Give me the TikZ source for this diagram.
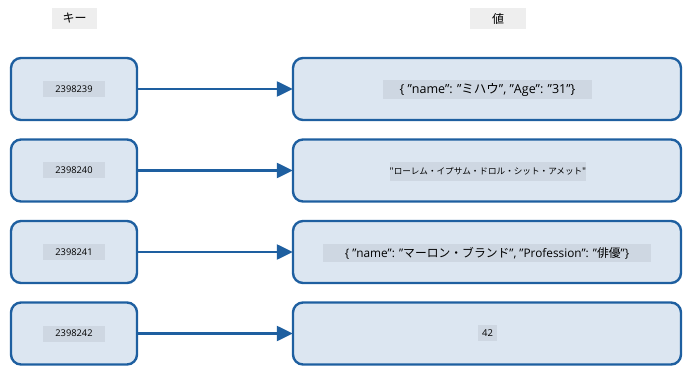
\documentclass[tikz,border=0pt]{standalone}
\usepackage{fontspec}
\setmainfont{Open Sans}[Ligatures=NoCommon]
\newfontfamily\jpfont{Noto Sans CJK JP}
\newcommand{\jp}[1]{{\jpfont #1}}
\usetikzlibrary{arrows.meta}
\definecolor{edge}{RGB}{30,95,160}
\definecolor{boxfill}{RGB}{220,230,241}
\definecolor{labfill}{RGB}{206,215,226}
\definecolor{headfill}{RGB}{238,238,238}
\tikzset{
  keybox/.style={draw=edge, line width=2.4pt, fill=boxfill, rounded corners=10pt,
    minimum width=126pt, minimum height=62pt, inner sep=0pt},
  valbox/.style={draw=edge, line width=2.4pt, fill=boxfill, rounded corners=10pt,
    minimum width=388pt, minimum height=62pt, inner sep=0pt},
  lab/.style={fill=labfill, inner sep=0pt, text=black},
  keylab/.style={lab, minimum width=62pt, minimum height=16pt, font=\fontsize{9.3}{10}\selectfont},
  head/.style={fill=headfill, inner sep=0pt, minimum width=45pt, minimum height=21pt, font=\jpfont\fontsize{12}{13}\selectfont},
  conn/.style={draw=edge, line width=2.4pt, -{Triangle[length=16pt,width=15pt]}, shorten >=-1pt}
}
\begin{document}
\begin{tikzpicture}[x=1pt,y=-1pt]
\useasboundingbox (0,0) rectangle (698,382);
\node[head] (hk) at (74.5,18.5) {キー};
\node[head, minimum width=56pt] (hv) at (498,18.5) {値};
\foreach \i/\y in {1/89,2/170.5,3/252,4/333.5}{
  \node[keybox] (k\i) at (74,\y) {};
  \node[valbox] (v\i) at (487,\y) {};
  \draw[conn] (k\i.east) -- (v\i.west);
}
\node[keylab] (l1) at (k1.center) {2398239};
\node[keylab] (l2) at (k2.center) {2398240};
\node[keylab] (l3) at (k3.center) {2398241};
\node[keylab] (l4) at (k4.center) {2398242};
\node[lab, minimum width=209pt, minimum height=19pt, font=\fontsize{12.5}{13}\selectfont] (m1) at (487.5,89.5) {\{ \symbol{34}name\symbol{34}: \symbol{34}\jp{ミハウ}\symbol{34}, \symbol{34}Age\symbol{34}: \symbol{34}31\symbol{34}\}};
\node[lab, minimum width=196pt, minimum height=19pt, font=\jpfont\fontsize{8.6}{9}\selectfont] (m2) at (488,171.5) {\symbol{34}ローレム・イプサム・ドロル・シット・アメット\symbol{34}};
\node[lab, minimum width=328pt, minimum height=18pt, font=\fontsize{11.8}{12}\selectfont] (m3) at (487,253) {\{ \symbol{34}name\symbol{34}: \symbol{34}\jp{マーロン・ブランド}\symbol{34}, \symbol{34}Profession\symbol{34}: \symbol{34}\jp{俳優}\symbol{34}\}};
\node[lab, minimum width=19pt, minimum height=16pt, font=\fontsize{9.5}{10}\selectfont] (m4) at (487.5,333) {42};
\end{tikzpicture}
\end{document}
